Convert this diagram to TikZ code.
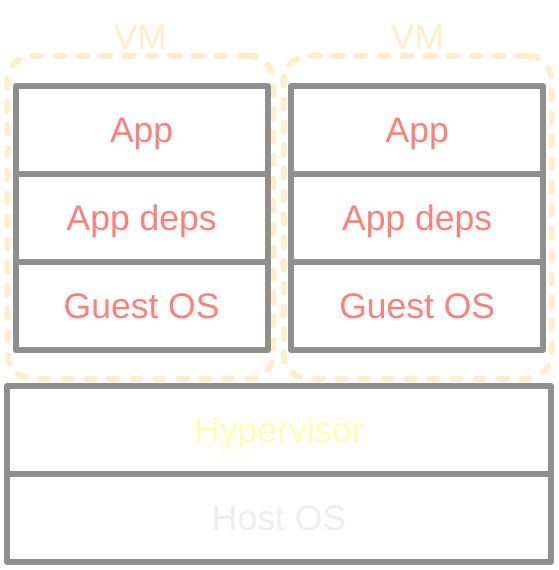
\documentclass[tikz,border=0pt]{standalone}
\usepackage{fontspec}
\setmainfont{Liberation Sans}
\usetikzlibrary{positioning}
\definecolor{boxgray}{HTML}{8F8F8F}
\definecolor{apptext}{HTML}{FF7F7A}
\definecolor{vmline}{HTML}{FFEECC}
\definecolor{hypertext}{HTML}{FFFFB3}
\definecolor{hosttext}{HTML}{EEEEEE}

\begin{document}
\begin{tikzpicture}[x=1pt,y=-1pt,
      layer/.style={rectangle,draw=boxgray,line width=6pt,line join=round,
        minimum width=252pt,minimum height=88pt,inner sep=0pt,outer sep=0pt,
        text height=25.4pt,text depth=0pt,font=\fontsize{35.5}{40}\selectfont},
      vmbox/.style={rectangle,draw=vmline,line width=6pt,line cap=round,
        dash pattern=on 9pt off 14pt,rounded corners=25pt,inner sep=0pt,outer sep=0pt}]
    \useasboundingbox (0,0) rectangle (558,570);

    % virtual machines
    \node[vmbox,minimum width=266pt,minimum height=323pt](vm1) at (140.4,217.3){};
    \node[vmbox,minimum width=268pt,minimum height=323pt](vm2) at (417.5,217.3){};
    \node[anchor=base,text=vmline,inner sep=0pt,font=\fontsize{35.5}{40}\selectfont](vmt1) at ([yshift=6pt]vm1.north){VM};
    \node[anchor=base,text=vmline,inner sep=0pt,font=\fontsize{35.5}{40}\selectfont](vmt2) at ([yshift=6pt]vm2.north){VM};

    \node[layer,text=apptext](app1) at (141.6,130){App};
    \node[layer,text=apptext,below of=app1,node distance=88pt](deps1){App deps};
    \node[layer,text=apptext,below of=deps1,node distance=88pt](guest1){Guest OS};

    \node[layer,text=apptext](app2) at (417.2,130){App};
    \node[layer,text=apptext,below of=app2,node distance=88pt](deps2){App deps};
    \node[layer,text=apptext,below of=deps2,node distance=88pt](guest2){Guest OS};

    % host
    \node[layer,minimum width=544pt,text=hypertext](hyper) at (279,430){Hypervisor};
    \node[layer,minimum width=544pt,text=hosttext,below of=hyper,node distance=88pt](host){Host OS};

\end{tikzpicture}
\end{document}
